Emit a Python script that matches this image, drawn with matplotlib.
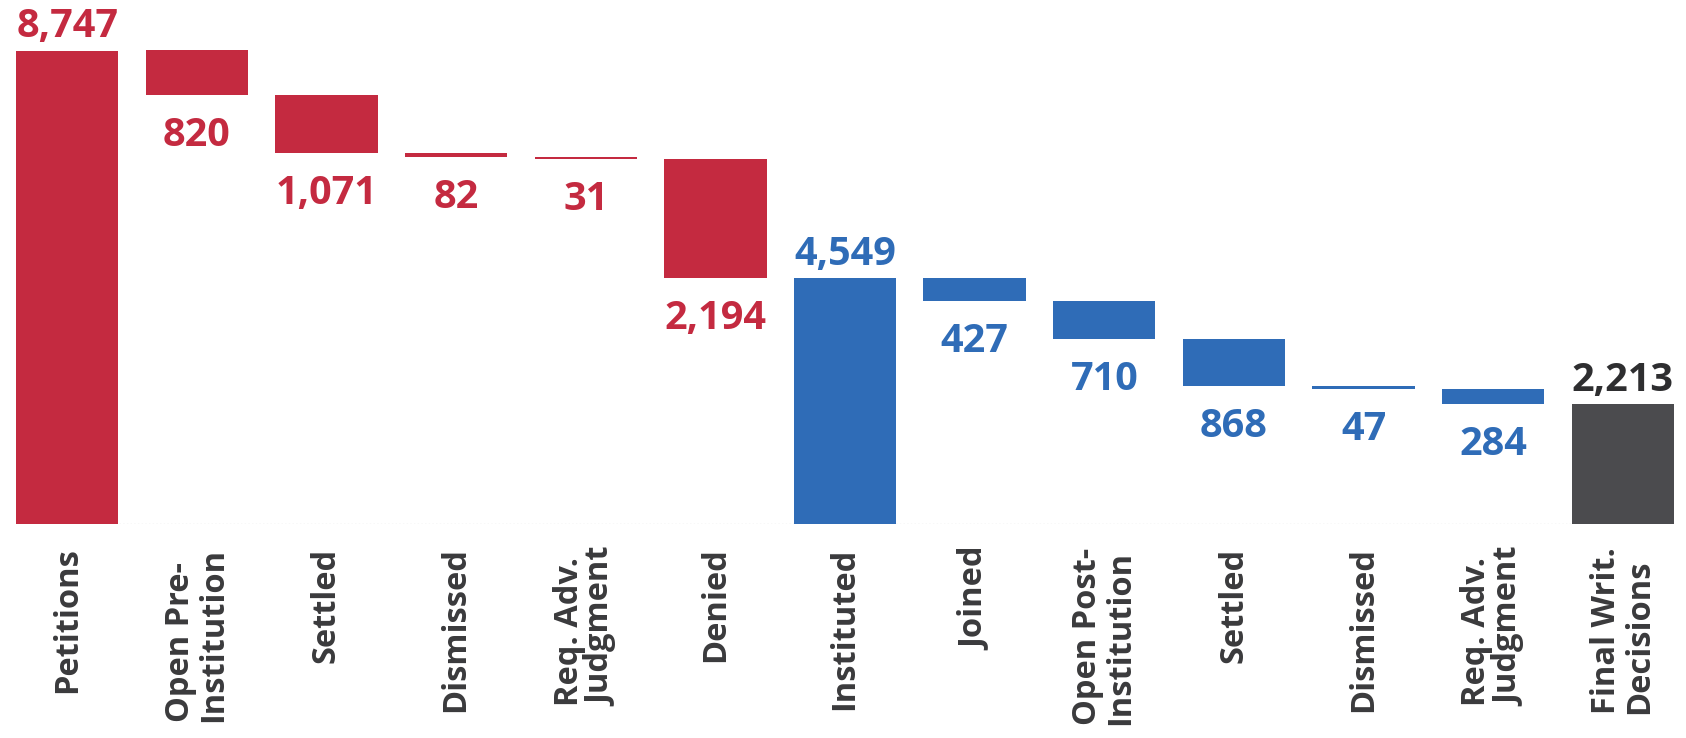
import numpy as np
import matplotlib.pyplot as plt

plt.rcParams['font.family'] = ['Open Sans', 'DejaVu Sans']

categories = ['Petitions', 'Open Pre-\nInstitution', 'Settled', 'Dismissed',
              'Req. Adv.\nJudgment', 'Denied', 'Instituted', 'Joined',
              'Open Post-\nInstitution', 'Settled', 'Dismissed',
              'Req. Adv.\nJudgment', 'Final Writ.\nDecisions']
values = [8747, 820, 1071, 82, 31, 2194, 4549, 427, 710, 868, 47, 284, 2213]
# 'total' bars stand on the baseline, 'step' bars hang from the running total
kinds = ['total', 'step', 'step', 'step', 'step', 'step', 'total',
         'step', 'step', 'step', 'step', 'step', 'total']
groups = ['pre'] * 6 + ['post'] * 6 + ['final']

colors = {'pre': '#C42A40', 'post': '#2F6CB7', 'final': '#4B4B4E'}
text_colors = {'pre': '#C42A40', 'post': '#2F6CB7', 'final': '#2E2E30'}

bottoms = []
heights = []
level = 0
for v, k in zip(values, kinds):
    if k == 'total':
        bottoms.append(0)
        heights.append(v)
        level = v
    else:
        level -= v
        bottoms.append(level)
        heights.append(v)

fig = plt.figure(figsize=(16.86, 7.38), dpi=100)
ax = fig.add_axes([16 / 1686, 1 - 524 / 738, 1658 / 1686, 524 / 738])

x = np.arange(len(categories))
width = 0.79
bar_colors = [colors[g] for g in groups]
ax.bar(x, heights, width, bottom=bottoms, color=bar_colors, linewidth=0)

for xi, v, b, h, k, g in zip(x, values, bottoms, heights, kinds, groups):
    if k == 'total':
        ax.annotate(f'{v:,}', (xi, b + h), xytext=(0, 3), textcoords='offset points',
                    ha='center', va='bottom', fontsize=28.5, fontweight='bold',
                    color=text_colors[g])
    else:
        ax.annotate(f'{v:,}', (xi, b), xytext=(0, -15), textcoords='offset points',
                    ha='center', va='top', fontsize=28.5, fontweight='bold',
                    color=text_colors[g])

ax.axhline(0, color='#dcdcdc', lw=1, ls=':', zorder=0)

ax.set_xlim(-width / 2, len(categories) - 1 + width / 2)
ax.set_ylim(0, 8747 * 524 / 473.5)
ax.set_xticks(x)
ax.set_xticklabels(categories, rotation=90, ha='center', va='top',
                   multialignment='left', fontsize=23.5, fontweight='bold',
                   color='#3A3A3C', linespacing=1.0)
ax.tick_params(axis='x', length=0, pad=17)
ax.set_yticks([])
for s in ax.spines.values():
    s.set_visible(False)

fig.savefig('out.png', dpi=100)
